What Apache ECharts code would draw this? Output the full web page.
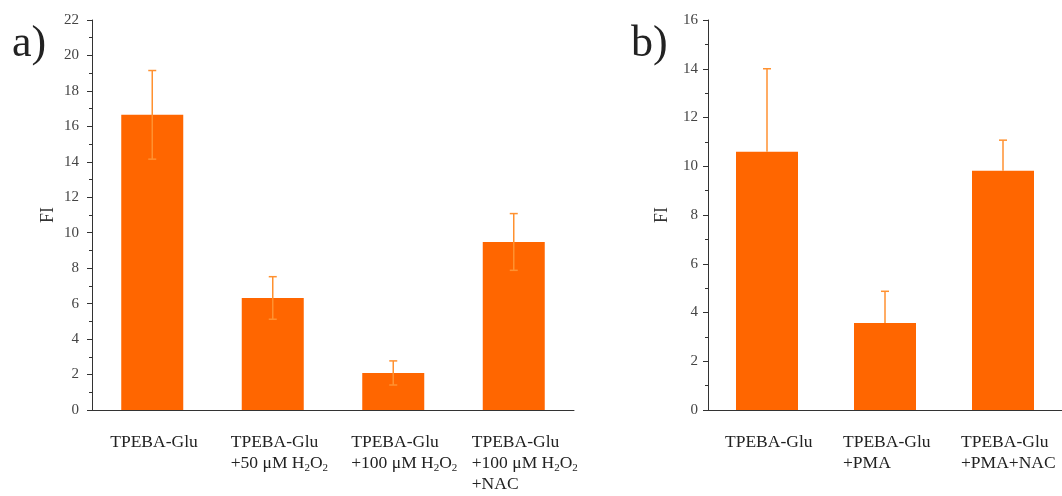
<!DOCTYPE html>
<html>
<head>
<meta charset="utf-8">
<style>
  html, body { margin: 0; padding: 0; background: #fff; }
  #chart { width: 1062px; height: 496px; }
</style>
<script src="https://cdn.jsdelivr.net/npm/echarts@6/dist/echarts.min.js"></script>
</head>
<body>
<div id="chart"></div>
<script>
// Panel a) — fluorescence intensity under H2O2 treatment
const categoriesA = ['TPEBA-Glu', 'TPEBA-Glu\n+50 μM H₂O₂', 'TPEBA-Glu\n+100 μM H₂O₂', 'TPEBA-Glu\n+100 μM H₂O₂\n+NAC'];
const meansA = [16.65, 6.32, 2.09, 9.48];
const errorsA = [2.5, 1.2, 0.68, 1.6];
const ticksA = { min: 0, max: 22, interval: 2 };

// Panel b) — fluorescence intensity under PMA stimulation
const categoriesB = ['TPEBA-Glu', 'TPEBA-Glu\n+PMA', 'TPEBA-Glu\n+PMA+NAC'];
const meansB = [10.6, 3.57, 9.82];
const errorsB = [3.4, 1.3, 1.25];
const ticksB = { min: 0, max: 16, interval: 2 };

const BAR = '#ff6600';
const ERR = '#ff9130';
const FONT = '"Liberation Serif", "Times New Roman", serif';

// Turn "₂" into a rich-text subscript token; every line is a rich line so lines align left
function subFormatter(v) {
  return v.split('\n').map(line => '{t|' + line.replace(/₂/g, '}{sub|2}{t|') + '}').join('\n');
}

const labelRich = {
  t: { fontFamily: FONT, fontSize: 17.5, color: '#222', lineHeight: 21, align: 'left' },
  sub: { fontFamily: FONT, fontSize: 11, color: '#222', lineHeight: 21, align: 'left', verticalAlign: 'bottom', padding: [10, 0, 0, 0] }
};

function errorSeries(xAxisIndex, yAxisIndex, means, errs, lower) {
  return {
    type: 'custom',
    xAxisIndex, yAxisIndex,
    z: 5,
    data: means.map((m, i) => [i, m, errs[i]]),
    renderItem: function (params, api) {
      const i = api.value(0), m = api.value(1), e = api.value(2);
      const top = api.coord([i, m + e]);
      const mid = api.coord([i, m]);
      const bot = lower ? api.coord([i, m - e]) : mid;
      const cap = 4;
      const style = { stroke: ERR, lineWidth: 1.5 };
      const children = [
        { type: 'line', shape: { x1: top[0], y1: top[1], x2: bot[0], y2: bot[1] }, style },
        { type: 'line', shape: { x1: top[0] - cap, y1: top[1], x2: top[0] + cap, y2: top[1] }, style }
      ];
      if (lower) {
        children.push({ type: 'line', shape: { x1: bot[0] - cap, y1: bot[1], x2: bot[0] + cap, y2: bot[1] }, style });
      }
      return { type: 'group', children };
    }
  };
}

function xAxisFor(gridIndex, cats) {
  return {
    type: 'category', gridIndex, data: cats,
    axisLine: { lineStyle: { color: '#333', width: 1 } },
    axisTick: { alignWithLabel: true, length: 5, lineStyle: { color: '#555' } },
    axisLabel: {
      formatter: subFormatter, rich: labelRich, margin: 22, interval: 0,
      width: 84, overflow: 'none', align: 'center', verticalAlign: 'top'
    }
  };
}

function yAxisFor(gridIndex, t, labelMargin, nameGap) {
  return {
    type: 'value', gridIndex, min: t.min, max: t.max, interval: t.interval,
    name: 'FI', nameLocation: 'middle', nameGap: nameGap,
    nameTextStyle: { fontFamily: FONT, fontSize: 18, color: '#333' },
    axisLine: { show: true, lineStyle: { color: '#333', width: 1 } },
    axisTick: { show: true, length: 5, lineStyle: { color: '#333' } },
    minorTick: { show: true, splitNumber: 2, length: 3, lineStyle: { color: '#333' } },
    splitLine: { show: false },
    axisLabel: { fontFamily: FONT, fontSize: 15, color: '#444', margin: labelMargin }
  };
}

const titleStyle = { fontFamily: FONT, fontSize: 44, fontWeight: 'normal', color: '#222' };

const chart = echarts.init(document.getElementById('chart'), null, { renderer: 'canvas' });
chart.setOption({
  animation: false,
  backgroundColor: '#fff',
  title: [
    { text: 'a)', left: 12, top: 22, padding: 0, textStyle: titleStyle },
    { text: 'b)', left: 631, top: 22, padding: 0, textStyle: titleStyle }
  ],
  grid: [
    { left: 92, top: 20, width: 482, height: 390 },
    { left: 708, top: 20, width: 363, height: 390 }
  ],
  xAxis: [xAxisFor(0, categoriesA), xAxisFor(1, categoriesB)],
  yAxis: [yAxisFor(0, ticksA, 13, 35), yAxisFor(1, ticksB, 10, 37)],
  series: [
    { type: 'bar', xAxisIndex: 0, yAxisIndex: 0, data: meansA, barWidth: 62, itemStyle: { color: BAR } },
    errorSeries(0, 0, meansA, errorsA, true),
    { type: 'bar', xAxisIndex: 1, yAxisIndex: 1, data: meansB, barWidth: 62, itemStyle: { color: BAR } },
    errorSeries(1, 1, meansB, errorsB, false)
  ]
});
</script>
</body>
</html>
